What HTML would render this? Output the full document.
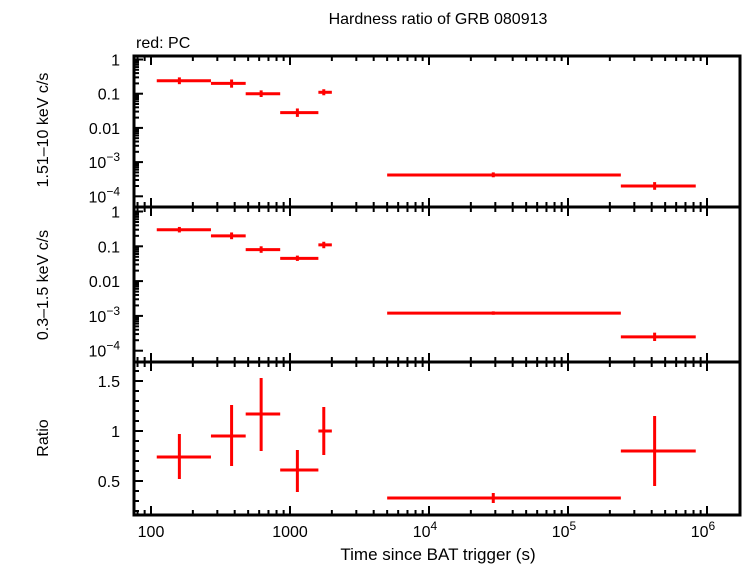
<!DOCTYPE html>
<html><head><meta charset="utf-8"><style>
body{margin:0;background:#fff;}
svg{display:block;font-family:"Liberation Sans",sans-serif;}
</style></head><body>
<svg id="c" width="742" height="566"></svg>
<script>
const binLo=[110,270,480,850,1600,5000,240000];
const binHi=[270,480,850,1600,2000,240000,830000];
const binMid=[160,380,620,1130,1750,29000,420000];
const hardVal=[0.24,0.2,0.1,0.028,0.11,4.2e-4,2e-4];
const hardLo=[0.19,0.15,0.08,0.021,0.09,3.6e-4,1.55e-4];
const hardHi=[0.3,0.26,0.125,0.037,0.135,5.0e-4,2.6e-4];
const softVal=[0.3,0.2,0.08,0.045,0.11,1.2e-3,2.5e-4];
const softLo=[0.25,0.16,0.065,0.038,0.088,1.08e-3,1.9e-4];
const softHi=[0.36,0.25,0.1,0.054,0.135,1.35e-3,3.3e-4];
const ratioVal=[0.74,0.95,1.17,0.61,1.0,0.33,0.8];
const ratioLo=[0.52,0.65,0.8,0.39,0.76,0.28,0.45];
const ratioHi=[0.97,1.26,1.53,0.81,1.24,0.38,1.15];
const xTickVals=[100,1000,1e4,1e5,1e6];
const xTickBase=["100","1000","10","10","10"];
const xTickExp=["","","4","5","6"];
const logTickVals=[1,0.1,0.01,1e-3,1e-4];
const logTickBase=["1","0.1","0.01","10","10"];
const logTickExp=["","","","−3","−4"];
const ratioTicks=[0.5,1,1.5];

const svg=document.getElementById('c');
const NS="http://www.w3.org/2000/svg";
const L=134,R=740;
const xs=v=>151+(Math.log10(v)-2)*139;
const panels=[
 {t:56,b:207,y:v=>59.5-Math.log10(v)*34.2,name:'hard'},
 {t:207,b:362,y:v=>211.5-Math.log10(v)*34.8,name:'soft'},
 {t:362,b:515,y:v=>431-(v-1)*100,name:'ratio'}];
function el(tag,attrs,parent){const e=document.createElementNS(NS,tag);for(const k in attrs)e.setAttribute(k,attrs[k]);(parent||svg).appendChild(e);return e;}
function txt(x,y,s,anchor,size,rot,parent){const t=el('text',{x:x,y:y,'text-anchor':anchor||'middle','font-size':size||16,fill:'#000'},parent);if(rot)t.setAttribute('transform',`rotate(-90 ${x} ${y})`);t.textContent=s;return t;}
function stxt(x,y,base,exp,anchor,parent){const t=el('text',{x:x,y:y,'text-anchor':anchor,'font-size':16,fill:'#000'},parent);
  const a=el('tspan',{},t);a.textContent=base;
  if(exp){const b=el('tspan',{dy:-7,'font-size':12},t);b.textContent=exp;}
  return t;}

let t=txt(438,24,"Hardness ratio of GRB 080913",'middle',16);

t=txt(136,48,"red: PC",'start',16);


const sets=[[hardVal,hardLo,hardHi],[softVal,softLo,softHi],[ratioVal,ratioLo,ratioHi]];
panels.forEach((p,pi)=>{
  const g=el('g',{});
  
  
  for(let d=1;d<=6;d++)for(let m=1;m<10;m++){const v=m*Math.pow(10,d);const x=xs(v);if(x<L||x>R)continue;const len=m==1?9:5;
    el('line',{x1:x,x2:x,y1:p.b,y2:p.b-len,stroke:'#000','stroke-width':2},g);
    el('line',{x1:x,x2:x,y1:p.t,y2:p.t+len,stroke:'#000','stroke-width':2},g);}
  if(pi<2){for(let d=-4;d<=0;d++)for(let m=1;m<10;m++){const v=m*Math.pow(10,d);const y=p.y(v);if(y<p.t||y>p.b)continue;
      el('line',{x1:L,x2:L+(m==1?9:5),y1:y,y2:y,stroke:'#000','stroke-width':2},g);}
    logTickVals.forEach((v,i)=>{const y=p.y(v);if(y<p.t-6||y>p.b+2)return;stxt(120,y+6,logTickBase[i],logTickExp[i],'end',g);});
  } else {
    for(let v=0.2;v<=1.7;v+=0.1){const y=p.y(v);if(y<p.t||y>p.b)continue;const maj=Math.abs(v*2-Math.round(v*2))<1e-6;
      el('line',{x1:L,x2:L+(maj?9:5),y1:y,y2:y,stroke:'#000','stroke-width':2},g);}
    ratioTicks.forEach(v=>{txt(120,p.y(v)+6,String(v),'end',16,false,g);});
  }
  el('rect',{x:L,y:p.t,width:R-L,height:p.b-p.t,fill:'none',stroke:'#000','stroke-width':3},g);
  const [val,lo,hi]=sets[pi];
  val.forEach((v,i)=>{
    const pt=el('g',{},g);
    
    
    el('line',{x1:xs(binLo[i]),x2:xs(binHi[i]),y1:p.y(v),y2:p.y(v),stroke:'#f00','stroke-width':3},pt);
    el('line',{x1:xs(binMid[i]),x2:xs(binMid[i]),y1:p.y(lo[i]),y2:p.y(hi[i]),stroke:'#f00','stroke-width':3},pt);
  });
});
xTickVals.forEach((v,i)=>{const tt=stxt(xs(v)+(xTickExp[i]?-4:0),537,xTickBase[i],xTickExp[i],'middle');});
t=txt(438,560,"Time since BAT trigger (s)",'middle',17);

t=txt(48,130,"1.51–10 keV c/s",'middle',16,true);

t=txt(48,285,"0.3–1.5 keV c/s",'middle',16,true);

t=txt(48,438,"Ratio",'middle',16,true);

</script>
</body></html>
